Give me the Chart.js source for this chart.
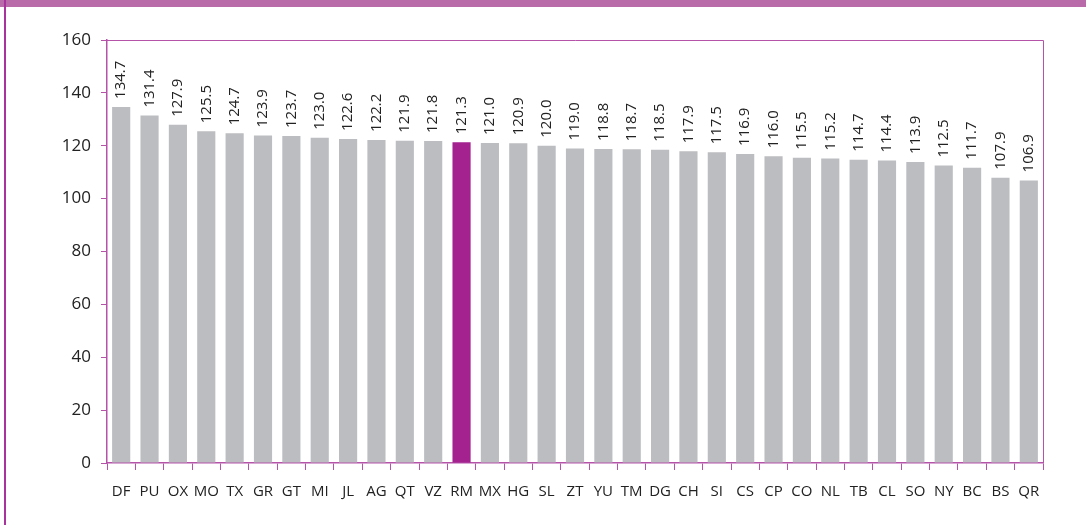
<!DOCTYPE html>
<html>
<head>
<meta charset="utf-8">
<script src="https://cdn.jsdelivr.net/npm/chart.js@4"></script>
<style>
  body { margin: 0; background: #fff; }
  #wrap { position: relative; width: 1086px; height: 525px; overflow: hidden; }
  #topband { position: absolute; left: 0; top: 0; width: 1086px; height: 7px; background: #b96aa9; }
  #leftline { position: absolute; left: 4px; top: 0; width: 2px; height: 525px; background: #a8339c; }
  canvas { position: absolute; left: 0; top: 0; }
</style>
</head>
<body>
<div id="wrap">
  <canvas id="chart" width="1086" height="525"></canvas>
  <div id="topband"></div>
  <div id="leftline"></div>
</div>
<script>
const states = ['DF','PU','OX','MO','TX','GR','GT','MI','JL','AG','QT','VZ','RM','MX','HG','SL','ZT','YU','TM','DG','CH','SI','CS','CP','CO','NL','TB','CL','SO','NY','BC','BS','QR'];
const values = [134.7,131.4,127.9,125.5,124.7,123.9,123.7,123.0,122.6,122.2,121.9,121.8,121.3,121.0,120.9,120.0,119.0,118.8,118.7,118.5,117.9,117.5,116.9,116.0,115.5,115.2,114.7,114.4,113.9,112.5,111.7,107.9,106.9];
const highlight = 'RM';

const purple = '#b553a9';
const barColors = states.map(s => s === highlight ? '#a3228f' : '#bcbdc1');

// value labels, rotated, above each bar
const valueLabels = {
    id: 'valueLabels',
    afterDatasetsDraw(chart) {
        const ctx = chart.ctx;
        const meta = chart.getDatasetMeta(0);
        ctx.save();
        ctx.font = '15px "Open Sans"';
        ctx.fillStyle = '#222';
        ctx.textAlign = 'left';
        ctx.textBaseline = 'middle';
        meta.data.forEach((bar, i) => {
            ctx.save();
            ctx.translate(bar.x, bar.y - 8);
            ctx.rotate(-Math.PI / 2);
            ctx.fillText(values[i].toFixed(1), 0, 0);
            ctx.restore();
        });
        ctx.restore();
    }
};

// top and right edges of the plot frame
const frame = {
    id: 'frame',
    afterDraw(chart) {
        const a = chart.chartArea;
        const ctx = chart.ctx;
        ctx.save();
        ctx.strokeStyle = purple;
        ctx.lineWidth = 1;
        ctx.beginPath();
        ctx.moveTo(a.left, a.top + 0.5);
        ctx.lineTo(a.right + 0.5, a.top + 0.5);
        ctx.lineTo(a.right + 0.5, a.bottom);
        ctx.stroke();
        ctx.restore();
    }
};

new Chart(document.getElementById('chart'), {
    type: 'bar',
    data: {
        labels: states,
        datasets: [{
            data: values,
            backgroundColor: barColors,
            barPercentage: 0.64,
            categoryPercentage: 1.0
        }]
    },
    options: {
        responsive: false,
        animation: false,
        layout: { padding: { top: 40, right: 43, left: 0, bottom: 0 } },
        plugins: {
            legend: { display: false },
            tooltip: { enabled: false }
        },
        scales: {
            x: {
                afterFit(scale) { scale.height = 62; },
                grid: {
                    display: true,
                    drawOnChartArea: false,
                    tickLength: 7,
                    color: purple,
                    offset: true
                },
                border: { color: purple, width: 1.5 },
                ticks: {
                    color: '#222',
                    font: { family: 'Open Sans', size: 15 },
                    maxRotation: 0,
                    autoSkip: false,
                    padding: 13
                }
            },
            y: {
                min: 0,
                max: 160,
                afterFit(scale) { scale.width = 107; },
                grid: {
                    display: true,
                    drawOnChartArea: false,
                    tickLength: 6,
                    color: purple
                },
                border: { color: purple, width: 1.5 },
                ticks: {
                    stepSize: 20,
                    color: '#222',
                    font: { family: 'Open Sans', size: 17 },
                    padding: 10
                }
            }
        }
    },
    plugins: [valueLabels, frame]
});
</script>
</body>
</html>
